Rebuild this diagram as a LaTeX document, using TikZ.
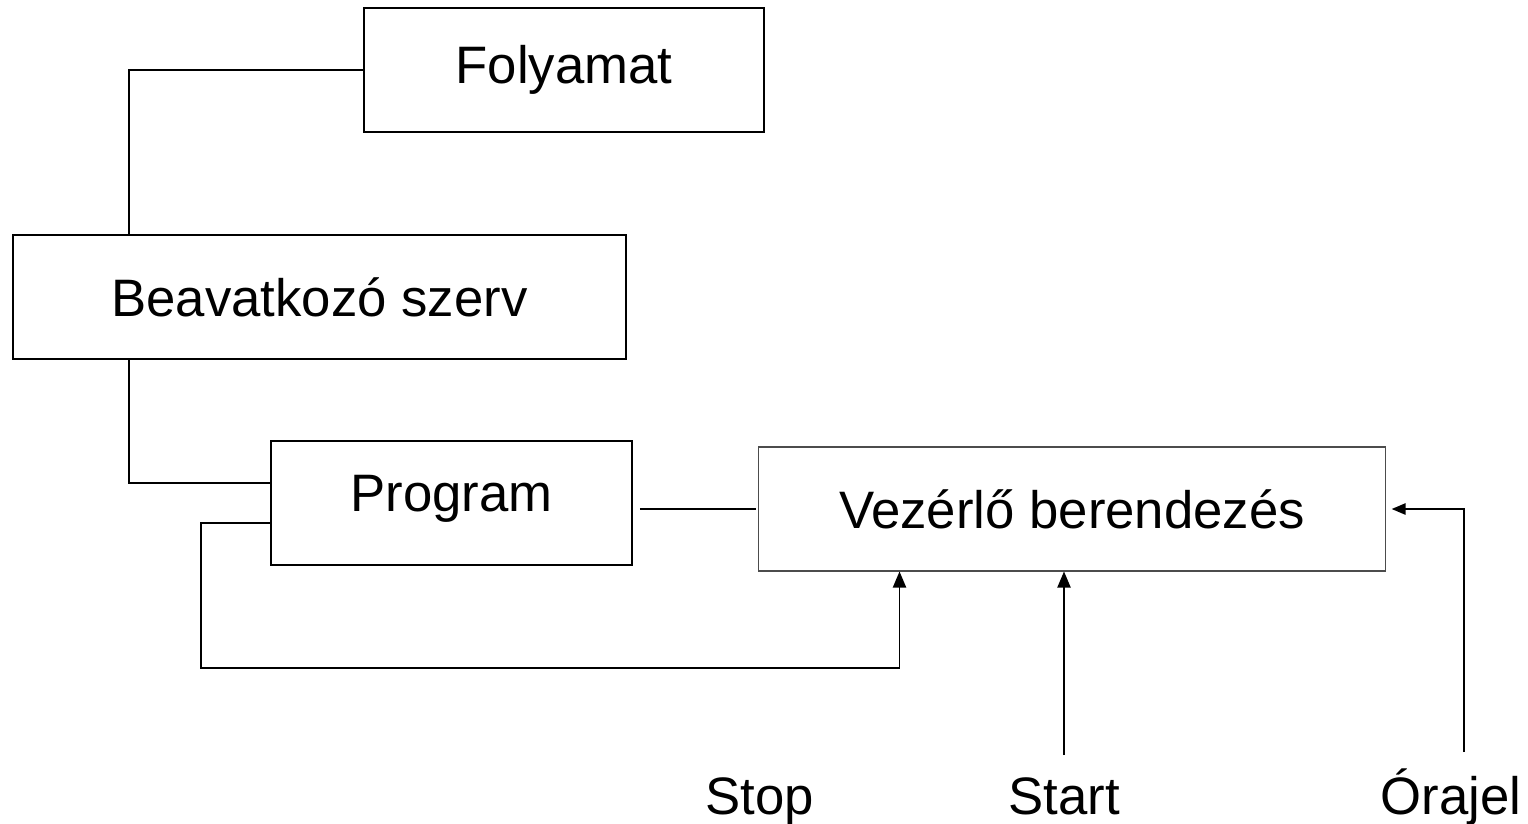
\documentclass[tikz,border=0pt]{standalone}
\usepackage{fontspec}
\setmainfont{Liberation Sans}
\usepackage{tikz}
\usetikzlibrary{arrows}
\definecolor{vezgray}{rgb}{0.3,0.3,0.3}
\tikzset{blokk/.style={draw,line width=1.1pt,inner sep=0pt,font=\fontsize{30}{32}\selectfont},
  felirat/.style={inner sep=0pt,anchor=base,font=\fontsize{30}{32}\selectfont}}

\begin{document}
\begin{tikzpicture}[line cap=butt,line join=miter,>=triangle 45,x=0.02cm,y=-0.02cm]
\useasboundingbox (0,0) rectangle (1528,823);
\node [blokk,minimum width=8cm,minimum height=2.48cm] (fol) at (564,70) {Folyamat};
\node [blokk,minimum width=12.26cm,minimum height=2.48cm] (bea) at (319.5,297) {Beavatkozó szerv};
\node [blokk,minimum width=7.22cm,minimum height=2.48cm,text depth=0.4cm] (prog) at (451.5,503) {Program};
\node [blokk,line width=0.6pt,draw=vezgray,minimum width=12.56cm,minimum height=2.48cm] (vez) at (1072,509) {Vezérlő berendezés};
\node [felirat] (stop) at (760,814) {Stop};
\node [felirat] (start) at (1064,814) {Start};
\node [felirat] (ora) at (1451,814) {Órajel};
\coordinate (hurok) at (201,668);
\coordinate (inditas) at (1064,755);
\coordinate (orajel) at (1464,752);
% osszekottetesek
\draw [line width=1.1pt] (fol.west) -| ([xshift=2.34cm]bea.north west);
\draw [line width=1.1pt] ([xshift=2.34cm]bea.south west) |- ([yshift=0.4cm]prog.west);
\draw [line width=1.1pt,->] ([yshift=-0.4cm]prog.west) -| (hurok) -| ([xshift=2.84cm]vez.south west);
\draw [line width=1.1pt,shorten <=4pt,shorten >=1pt] (prog.east |- vez.west) -- (vez.west);
\draw [line width=1.1pt,->] (inditas) -- (inditas |- vez.south);
\draw [line width=0.8pt,->,shorten >=3pt] (orajel) |- (vez.east);
\end{tikzpicture}
\end{document}
